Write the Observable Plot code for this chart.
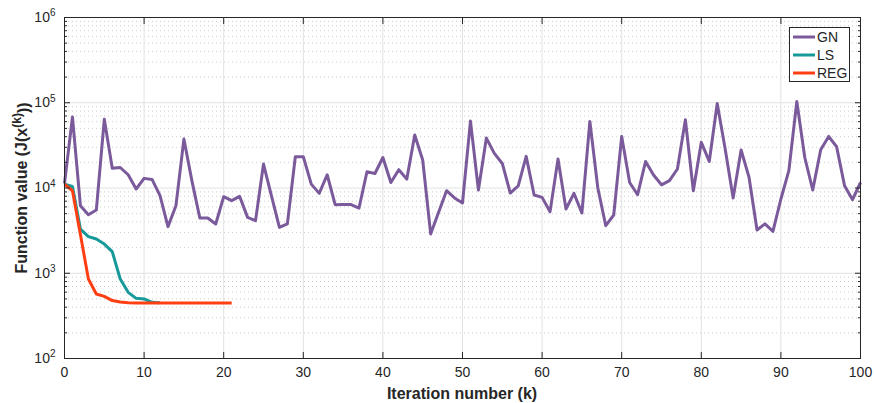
<!DOCTYPE html>
<html><head><meta charset="utf-8">
<script src="https://cdn.jsdelivr.net/npm/d3@7"></script>
<script src="https://cdn.jsdelivr.net/npm/@observablehq/plot@0.6"></script>
<style>body{margin:0;background:#fff}#chart{width:874px;height:403px}</style>
</head><body><div id="chart"></div>
<script>
const seriesNames = ["GN", "LS", "REG"];
const seriesColors = ["#7B5A9C", "#17999A", "#FF3F12"];
const gnValues = [11300, 68000, 6200, 4860, 5520, 64000, 17100, 17400, 14300, 9730,
  12970, 12600, 8120, 3520, 6200, 37500, 12200, 4450, 4450, 3780,
  7910, 7100, 7980, 4520, 4140, 19100, 8100, 3450, 3790, 23300,
  23300, 11100, 8650, 14300, 6370, 6400, 6400, 5820, 15500, 14800,
  22800, 11600, 16400, 12700, 41800, 21300, 2890, 5180, 9290, 7640,
  6670, 61000, 9470, 38500, 25500, 19400, 8730, 10600, 23500, 8280,
  7760, 5280, 21900, 5670, 8650, 5090, 60400, 10000, 3610, 4820,
  40300, 11600, 8340, 20500, 14200, 10900, 12200, 16700, 63200, 9290,
  34300, 20500, 98200, 28600, 7640, 27900, 13300, 3220, 3790, 3100,
  7430, 15960, 103500, 22800, 9470, 28100, 40300, 30500, 10600, 7290,
  11600];
const lsValues = [11100, 10400, 3300, 2690, 2520, 2200, 1790, 857, 597, 508, 500, 456, 450];
const regValues = [11100, 9290, 2850, 857, 571, 536, 478, 461, 452, 449, 449, 449, 449, 449, 449, 449, 449, 449, 449, 449, 449, 449];
const xTicks = [0, 10, 20, 30, 40, 50, 60, 70, 80, 90, 100];
const yMajorTicks = [1e2, 1e3, 1e4, 1e5, 1e6];
const yTickLabels = ["10^2", "10^3", "10^4", "10^5", "10^6"];
const yMinorTicks = [];
[1e2, 1e3, 1e4, 1e5].forEach(d => [2,3,4,5,6,7,8,9].forEach(m => yMinorTicks.push(d * m)));
const xLabel = "Iteration number (k)";

const allValues = [gnValues, lsValues, regValues];
const rows = [];
allValues.forEach((vals, si) => vals.forEach((v, i) => rows.push({k: i, v, s: seriesNames[si]})));

const font = "'Liberation Sans', Arial, Helvetica, sans-serif";
const axisColor = "#262626";
const tickOnly = (anchor, size) => ({anchor, tickSize: size, fill: "none", label: null, stroke: axisColor});

const chart = Plot.plot({
  width: 874, height: 403,
  marginLeft: 64, marginRight: 14, marginTop: 17, marginBottom: 45,
  style: {fontFamily: font, fontSize: "14px", color: axisColor, background: "#fff"},
  x: {domain: [0, 100]},
  y: {type: "log", domain: [100, 1e6]},
  marks: [
    Plot.gridY(yMinorTicks, {stroke: "#cccccc", strokeOpacity: 1, strokeDasharray: "1,3"}),
    Plot.gridY(yMajorTicks, {stroke: "#e2e2e2", strokeOpacity: 1}),
    Plot.gridX(xTicks, {stroke: "#e2e2e2", strokeOpacity: 1}),
    ...seriesNames.map((name, si) => Plot.line(rows.filter(r => r.s === name), {
      x: "k", y: "v", stroke: seriesColors[si], strokeWidth: 3, strokeLinejoin: "round", strokeLinecap: "butt"
    })),
    Plot.frame({stroke: axisColor, strokeWidth: 1}),
    Plot.axisX(xTicks, tickOnly("bottom", -6)),
    Plot.axisX(xTicks, tickOnly("top", -6)),
    Plot.axisX(xTicks, {anchor: "bottom", tickSize: 0, tickPadding: 9, fontSize: 14, fill: axisColor, label: null}),
    Plot.axisY(yMajorTicks, tickOnly("left", -6)),
    Plot.axisY(yMajorTicks, tickOnly("right", -6)),
    Plot.axisY(yMinorTicks, tickOnly("left", -3)),
    Plot.axisY(yMinorTicks, tickOnly("right", -3)),
    Plot.axisY(yMajorTicks, {anchor: "left", tickSize: 0, tickPadding: 9, fontSize: 14, fill: axisColor, label: null,
      tickFormat: d => yTickLabels[yMajorTicks.indexOf(d)]})
  ]
});

const svg = d3.select(chart);
// superscript exponents on y tick labels
svg.selectAll("text").filter(function() { return /^10\^\d$/.test(d3.select(this).text()); }).each(function() {
  const t = d3.select(this);
  const parts = t.text().split("^");
  t.text(parts[0]);
  t.append("tspan").attr("dy", "-0.55em").attr("font-size", "10px").text(parts[1]);
});

// x axis label
svg.append("text")
  .attr("x", 64 + (860 - 64) / 2).attr("y", 399)
  .attr("text-anchor", "middle").attr("font-family", font).attr("font-weight", "bold")
  .attr("font-size", "16px").attr("fill", axisColor).text(xLabel);

// y axis label with superscript
const yl = svg.append("text")
  .attr("transform", "translate(27,188) rotate(-90)")
  .attr("text-anchor", "middle").attr("font-family", font).attr("font-weight", "bold")
  .attr("font-size", "16px").attr("fill", axisColor);
yl.append("tspan").text("Function value (J(x");
yl.append("tspan").attr("dy", "-0.5em").attr("font-size", "12px").text("(k)");
yl.append("tspan").attr("dy", "0.5em").text("))");

// legend
const lg = svg.append("g").attr("transform", "translate(789,27)");
lg.append("rect").attr("x", 0.5).attr("y", 0.5).attr("width", 60).attr("height", 54)
  .attr("fill", "#fff").attr("stroke", axisColor).attr("stroke-width", 1);
seriesNames.forEach((name, i) => {
  const yy = 10 + i * 18;
  lg.append("line").attr("x1", 4).attr("x2", 26).attr("y1", yy).attr("y2", yy)
    .attr("stroke", seriesColors[i]).attr("stroke-width", 3);
  lg.append("text").attr("x", 28).attr("y", yy).attr("dy", "0.36em").attr("text-anchor", "start")
    .attr("font-family", font).attr("font-size", "14px").attr("fill", axisColor).text(name);
});

document.getElementById("chart").appendChild(chart);
</script>
</body></html>
